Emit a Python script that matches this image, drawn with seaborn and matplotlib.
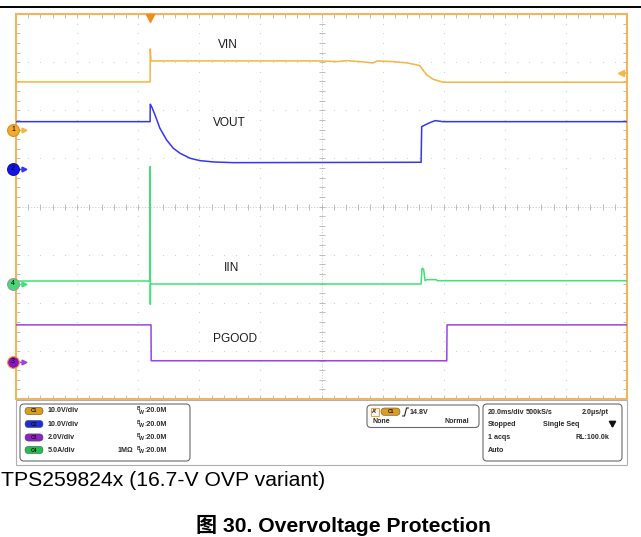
import numpy as np
import pandas as pd
import matplotlib
matplotlib.use("Agg")
import matplotlib.pyplot as plt
import seaborn as sns
from matplotlib.patches import FancyBboxPatch, Rectangle

# ---------------- data (time in ms, 20 ms/div, 10 div on screen) ----------------
vin_t = [0, 43.9, 43.95, 44.2, 99.5, 105.1, 108.3, 112.6, 116.9, 118.2, 123.4,
         128.0, 131.3, 132.2, 133.2, 134.5, 136.5, 139.8, 200]
vin_v = [9.98, 9.98, 16.84, 14.35, 14.35, 14.2, 14.41, 14.2, 13.93, 14.35, 14.2,
         13.93, 13.51, 13.37, 12.47, 11.43, 10.54, 9.92, 9.92]

vout_t = [0, 43.9, 43.95, 44.4, 45.5, 47.1, 49.3, 51.5, 53.7, 57.0, 60.2, 64.6,
          71.0, 132.6, 132.8, 133.9, 135.5, 137.2, 139.8, 200]
vout_v = [9.83, 9.83, 13.45, 12.95, 11.23, 8.46, 6.03, 4.30, 3.26, 2.22, 1.73, 1.46,
          1.31, 1.39, 8.79, 9.15, 9.63, 10.04, 9.83, 9.83]

iin_t = [0, 43.9, 43.92, 43.97, 44.0, 132.6, 132.9, 133.4, 133.9, 134.5, 137.5, 138.0, 200]
iin_a = [0.31, 0.31, 12.2, -2.11, 0.0, 0.0, 1.63, 1.55, 0.34, 0.45, 0.45, 0.34, 0.34]

pg_t = [0, 44.2, 44.25, 141.0, 141.1, 200]
pg_v = [1.54, 1.54, 0.05, 0.05, 1.54, 1.54]

trace_names = ["VIN", "VOUT", "IIN", "PGOOD"]
scales = [10.0, 10.0, 5.0, 2.0]          # units per division
ground = [1.59, 0.78, -1.61, -3.23]      # ground reference (div from centre)
ch_num = ["1", "2", "4", "3"]

ch_scale_text = ["10.0V/div", "10.0V/div", "2.0V/div", "5.0A/div"]
ch_badge = ["C1", "C2", "C3", "C4"]
caption = "TPS259824x (16.7-V OVP variant)"
title = "图 30. Overvoltage Protection"

# ---------------- styles ----------------
colors = ["#F6B440", "#3636EE", "#3FE276", "#A040E2"]
badge_colors = ["#DE9D18", "#1D2ED6", "#8E22C4", "#21BE4E"]
marker_face = ["#F2AA2E", "#1414E6", "#45DA74", "#8A12C2"]
marker_edge = ["#D8901A", "#1010C0", "#9A9A9A", "#F2A52A"]
frame_col = "#F3B55C"
grid_col = "#D2D2D2"
tick_col = "#B4B4B4"

sns.set_style("white")
plt.rcParams["font.family"] = ["Liberation Sans", "Noto Sans CJK SC", "DejaVu Sans"]

W, H = 641, 537
fig = plt.figure(figsize=(W / 100, H / 100), dpi=100)

# scope graticule axes
L, R, T, B = 16, 627, 14, 399
ax = fig.add_axes([L / W, 1 - B / H, (R - L) / W, (B - T) / H])
ax.set_xlim(0, 200)
ax.set_ylim(-4, 4)
for s in ax.spines.values():
    s.set_color(frame_col)
    s.set_linewidth(1.5)
ax.set_xticks(np.arange(0, 200.01, 4))
ax.set_yticks(np.arange(-4, 4.01, 0.2))
ax.tick_params(axis="both", which="both", direction="in", length=3, width=0.6,
               color=tick_col, top=True, right=True, bottom=True, left=True,
               labelbottom=False, labelleft=False)

# dotted grid
minor_x = np.arange(0, 200.01, 4)
minor_y = np.arange(-4, 4.01, 0.2)
for gy in range(-3, 4):
    if gy == 0:
        continue
    ax.plot(minor_x, np.full_like(minor_x, gy), ls="none", marker="s", ms=0.8,
            mew=0, color=grid_col, zorder=1)
for gx in range(20, 200, 20):
    if gx == 100:
        continue
    ax.plot(np.full_like(minor_y, gx), minor_y, ls="none", marker="s", ms=0.8,
            mew=0, color=grid_col, zorder=1)
# centre cross with ticks
ax.axhline(0, color="#C8C8C8", lw=0.6, ls=(0, (1.5, 2)), zorder=1)
ax.axvline(100, color="#C8C8C8", lw=0.6, ls=(0, (1.5, 2)), zorder=1)
ax.plot(minor_x, np.zeros_like(minor_x), ls="none", marker="|", ms=4, mew=0.6,
        color=tick_col, zorder=1)
ax.plot(np.full_like(minor_y, 100), minor_y, ls="none", marker="_", ms=4, mew=0.6,
        color=tick_col, zorder=1)

# traces
series = [(vin_t, vin_v), (vout_t, vout_v), (iin_t, iin_a), (pg_t, pg_v)]
for (t, v), sc, g, c in zip(series, scales, ground, colors):
    df = pd.DataFrame({"t": t, "div": g + np.asarray(v, float) / sc})
    sns.lineplot(data=df, x="t", y="div", ax=ax, color=c, lw=1.1,
                 estimator=None, sort=False, legend=False, zorder=3)
ax.set_xlabel("")
ax.set_ylabel("")

# ground markers
for g, n, fc, ec, c in zip(ground, ch_num, marker_face, marker_edge, colors):
    ax.plot([0.3, 2.2], [g, g], color=c, lw=1.0, clip_on=False, zorder=9)
    ax.plot(2.5, g, marker=">", ms=3.5, color=c, clip_on=False, zorder=9)
    ax.plot(-1.0, g, marker="o", ms=8.5, mfc=fc, mec=ec, mew=0.8,
            clip_on=False, zorder=10)
    ax.text(-1.0, g, n, fontsize=5, ha="center", va="center", zorder=11,
            color="black")

# trigger position / level markers
ax.plot(43.9, 3.92, marker="v", ms=6, color="#F28C18", clip_on=False, zorder=10)
ax.plot([198.0, 200], [2.78, 2.78], color=colors[0], lw=1, clip_on=False, zorder=9)
ax.plot(198.0, 2.78, marker="<", ms=4, color=colors[0], clip_on=False, zorder=10)

# overlay in pixel coordinates
ov = fig.add_axes([0, 0, 1, 1], zorder=5)
ov.set_xlim(0, W)
ov.set_ylim(H, 0)
ov.axis("off")
ov.patch.set_alpha(0)

ov.plot([0, W], [7, 7], color="black", lw=1.4)

label_xy = [(228, 45), (229, 123), (232, 268), (235, 339)]
for name, (lx, ly) in zip(trace_names, label_xy):
    ov.text(lx, ly, name, fontsize=8.6, ha="center", va="center", color="#1E1E1E")

# readout panel
ov.add_patch(Rectangle((16, 400), 611, 65, fill=False, ec="#B0B0B0", lw=0.8))
def box(x0, y0, w, h):
    ov.add_patch(FancyBboxPatch((x0, y0), w, h,
                                boxstyle="round,pad=0,rounding_size=4",
                                fc="white", ec="#6A6A6A", lw=0.8))
box(20, 404, 170, 57)
box(367, 405, 112, 22.5)
box(483, 404, 139, 57)

fs = 5.1
txtc = "#2A2A2A"
rows = [411, 424, 437.5, 450]
for i, (ry, st, bd, bc) in enumerate(zip(rows, ch_scale_text, ch_badge, badge_colors)):
    ov.add_patch(FancyBboxPatch((25, ry - 3.6), 18, 7.2,
                                boxstyle="round,pad=0,rounding_size=3.6",
                                fc=bc, ec="#555555", lw=0.4))
    ov.text(34, ry, bd, fontsize=3.6, ha="center", va="center", color="#111111",
            fontweight="bold")
    ov.text(48, ry, st, fontsize=fs, ha="left", va="center", color=txtc,
            fontweight="bold")
    ov.text(137, ry - 2.0, "B", fontsize=3.4, ha="left", va="center", color=txtc,
            fontweight="bold")
    ov.text(139.3, ry + 1.2, "W", fontsize=3.8, ha="left", va="center", color=txtc,
            fontweight="bold")
    ov.text(144.8, ry, ":20.0M", fontsize=fs, ha="left", va="center", color=txtc,
            fontweight="bold")
ov.text(118, rows[3], "1MΩ", fontsize=fs, ha="left", va="center", color=txtc,
        fontweight="bold")

# trigger box
ov.add_patch(Rectangle((370.5, 407.5), 8, 8, fc="#F4F4F4", ec="#F0A030", lw=0.7))
ov.text(374.5, 411.6, "A'", fontsize=3.8, ha="center", va="center", color="#111",
        fontweight="bold")
ov.add_patch(FancyBboxPatch((381, 408), 19, 7.4,
                            boxstyle="round,pad=0,rounding_size=3.7",
                            fc=badge_colors[0], ec="#555555", lw=0.4))
ov.text(390.5, 411.7, "C1", fontsize=3.6, ha="center", va="center", color="#111",
        fontweight="bold")
ov.plot([402.5, 404.5, 406.5, 408.5], [416, 416, 408, 408], color="#222", lw=0.8)
ov.text(410, 412, "14.8V", fontsize=fs, ha="left", va="center", color=txtc,
        fontweight="bold")
ov.text(372.5, 421.5, "None", fontsize=fs, ha="left", va="center", color=txtc,
        fontweight="bold")
ov.text(469, 421.5, "Normal", fontsize=fs, ha="right", va="center", color=txtc,
        fontweight="bold")

# timebase box
tb = [(413, "20.0ms/div", 488, "left"), (413, "500kS/s", 526, "left"),
      (413, "2.0µs/pt", 609, "right"),
      (424, "Stopped", 488, "left"), (424, "Single Seq", 543, "left"),
      (437.5, "1 acqs", 488, "left"), (437.5, "RL:100.0k", 609, "right"),
      (450, "Auto", 488, "left")]
for ty, s, tx, ha in tb:
    ov.text(tx, ty, s, fontsize=fs, ha=ha, va="center", color=txtc,
            fontweight="bold")
ov.annotate("", xy=(612.5, 431), xytext=(612.5, 420),
            arrowprops=dict(arrowstyle="-|>,head_length=0.35,head_width=0.2",
                            color="#111", lw=1.3))

# captions
ov.text(1, 485.5, caption, fontsize=15.2, ha="left", va="baseline", color="black")
ov.text(343.5, 531.5, title, fontsize=15.2, ha="center", va="baseline",
        color="black", fontweight="bold")

fig.savefig("out.png", dpi=100)
